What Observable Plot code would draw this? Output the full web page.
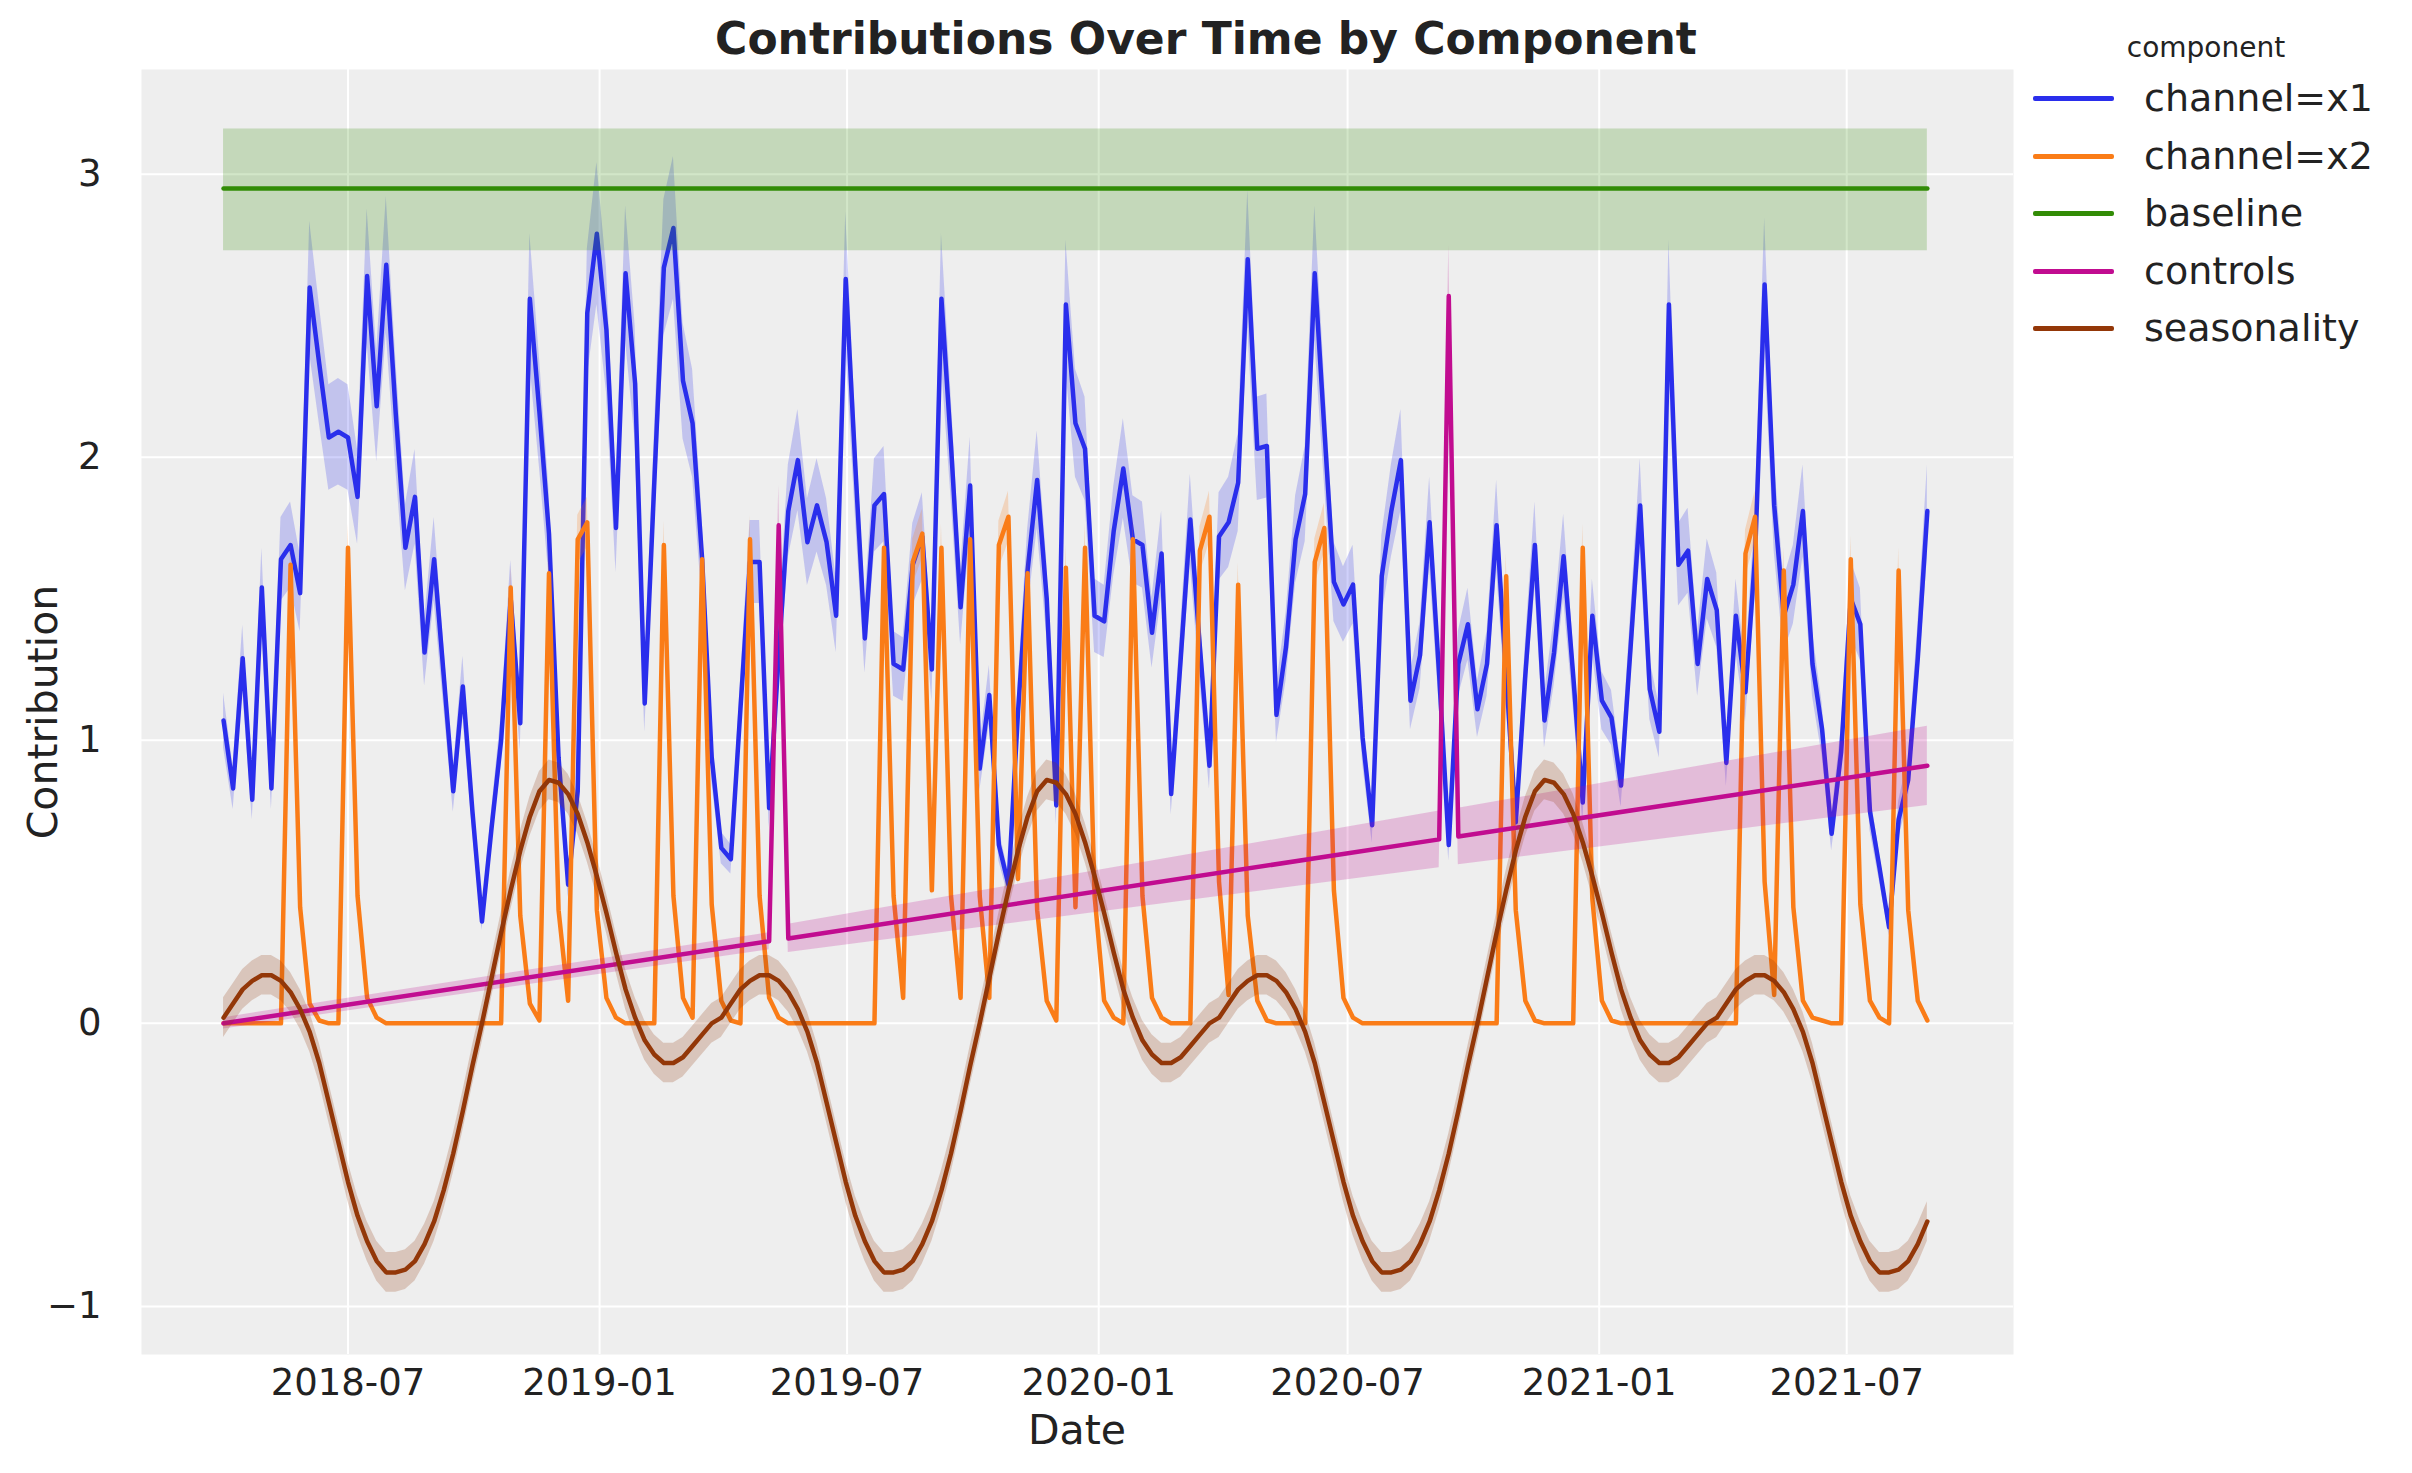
<!DOCTYPE html>
<html><head><meta charset="utf-8">
<script src="https://cdn.jsdelivr.net/npm/d3@7"></script>
<script src="https://cdn.jsdelivr.net/npm/@observablehq/plot@0.6"></script>
<style>
body{margin:0;background:#fff;font-family:"DejaVu Sans",sans-serif;}
#wrap{position:relative;width:2412px;height:1473px;}
.t{position:absolute;color:#222;white-space:nowrap;}
</style></head><body><div id="wrap"></div>
<script>
const startDate = "2018-04-01";
const nWeeks = 179;
const x1 = [1.07,0.83,1.29,0.79,1.54,0.83,1.64,1.69,1.52,2.60,
2.33,2.07,2.09,2.07,1.86,2.64,2.18,2.68,2.15,1.68,
1.86,1.31,1.64,1.23,0.82,1.19,0.75,0.36,0.69,1.00,
1.50,1.06,2.56,2.16,1.73,0.94,0.49,0.82,2.51,2.79,
2.45,1.75,2.65,2.26,1.13,1.91,2.67,2.81,2.27,2.12,
1.64,0.94,0.62,0.58,1.11,1.63,1.63,0.76,1.30,1.81,
1.99,1.70,1.83,1.70,1.44,2.63,1.97,1.36,1.83,1.87,
1.27,1.25,1.62,1.72,1.25,2.56,2.04,1.47,1.90,0.90,
1.16,0.63,0.49,1.10,1.60,1.92,1.50,0.77,2.54,2.12,
2.03,1.44,1.42,1.74,1.96,1.71,1.69,1.38,1.66,0.81,
1.29,1.78,1.33,0.91,1.72,1.77,1.91,2.70,2.03,2.04,
1.09,1.33,1.71,1.87,2.65,2.10,1.56,1.48,1.55,1.01,
0.70,1.58,1.81,1.99,1.14,1.30,1.77,1.23,0.63,1.27,
1.41,1.11,1.27,1.76,1.23,0.71,1.23,1.69,1.07,1.31,
1.65,1.23,0.78,1.44,1.14,1.08,0.84,1.33,1.83,1.18,
1.03,2.54,1.62,1.67,1.27,1.57,1.46,0.92,1.44,1.17,
1.65,2.61,1.83,1.44,1.55,1.81,1.27,1.04,0.67,0.96,
1.50,1.41,0.75,0.55,0.34,0.72,0.86,1.29,1.81];
const x2 = [0,0,0,0,0,0,0,1.62,0.41,0.07,
0.01,0,0,1.68,0.45,0.09,0.02,0,0,0,
0,0,0,0,0,0,0,0,0,0,
1.54,0.38,0.07,0.01,1.59,0.40,0.08,1.71,1.77,0.40,
0.09,0.02,0,0,0,0,1.69,0.45,0.09,0.02,
1.64,0.42,0.08,0.01,0,1.71,0.45,0.09,0.02,0,
0,0,0,0,0,0,0,0,0,1.68,
0.45,0.09,1.63,1.73,0.47,1.68,0.45,0.09,1.71,0.45,
0.09,1.69,1.79,0.51,1.59,0.40,0.08,0.01,1.61,0.41,
1.68,0.45,0.08,0.02,0,1.71,0.45,0.09,0.02,0,
0,0,1.67,1.79,0.50,0.10,1.55,0.38,0.08,0.01,
0,0,0,0,1.63,1.75,0.47,0.09,0.02,0,
0,0,0,0,0,0,0,0,0,0,
0,0,0,0,1.58,0.40,0.08,0.01,0,0,
0,0,1.68,0.44,0.08,0.01,0,0,0,0,
0,0,0,0,0,0,0,0,0,1.66,
1.79,0.50,0.10,1.60,0.41,0.08,0.02,0.01,0,0,
1.64,0.42,0.08,0.02,0,1.60,0.40,0.08,0.01];
const seasonality = [
0.02,0.07,0.12,0.15,0.17,0.17,0.15,0.11,0.05,-0.03,-0.14,-0.28,-0.42,-0.56,-0.68,-0.77,-0.84,-0.88,-0.88,-0.87,-0.84,-0.78,-0.70,-0.59,-0.46,-0.31,-0.15,0.00,0.16,0.32,0.47,0.61,0.73,0.82,0.86,0.85,0.81,0.74,0.64,0.52,0.39,0.25,0.12,0.02,-0.06,-0.11,-0.14,-0.14,-0.12,-0.08,-0.04,0.00,
0.02,0.07,0.12,0.15,0.17,0.17,0.15,0.11,0.05,-0.03,-0.14,-0.28,-0.42,-0.56,-0.68,-0.77,-0.84,-0.88,-0.88,-0.87,-0.84,-0.78,-0.70,-0.59,-0.46,-0.31,-0.15,0.00,0.16,0.32,0.47,0.61,0.73,0.82,0.86,0.85,0.81,0.74,0.64,0.52,0.39,0.25,0.12,0.02,-0.06,-0.11,-0.14,-0.14,-0.12,-0.08,-0.04,0.00,
0.02,0.07,0.12,0.15,0.17,0.17,0.15,0.11,0.05,-0.03,-0.14,-0.28,-0.42,-0.56,-0.68,-0.77,-0.84,-0.88,-0.88,-0.87,-0.84,-0.78,-0.70,-0.59,-0.46,-0.31,-0.15,0.00,0.16,0.32,0.47,0.61,0.73,0.82,0.86,0.85,0.81,0.74,0.64,0.52,0.39,0.25,0.12,0.02,-0.06,-0.11,-0.14,-0.14,-0.12,-0.08,-0.04,0.00,
0.02,0.07,0.12,0.15,0.17,0.17,0.15,0.11,0.05,-0.03,-0.14,-0.28,-0.42,-0.56,-0.68,-0.77,-0.84,-0.88,-0.88,-0.87,-0.84,-0.78,-0.70];
// controls: breakpoints (week index, value, band lo, band hi)
const controlsIdx = [0,57,58,59,127,128,129,178];
const controlsVal = [0.0,0.29,1.76,0.30,0.65,2.57,0.66,0.91];
const controlsLo  = [-0.02,0.26,1.60,0.25,0.55,2.40,0.56,0.77];
const controlsHi  = [0.02,0.32,1.90,0.35,0.75,2.75,0.76,1.05];
const baselineVal = 2.95, baselineLo = 2.73, baselineHi = 3.16;
const yTicks = [-1,0,1,2,3];
const xTicks = ["2018-07-01","2019-01-01","2019-07-01","2020-01-01","2020-07-01","2021-01-01","2021-07-01"];
const components = ["channel=x1","channel=x2","baseline","controls","seasonality"];
const colors = ["#2a2eec","#fa7c17","#328c06","#c10c90","#933708"];

const t0 = new Date(startDate+"T00:00:00Z");
const dateOf = i => d3.utcDay.offset(t0, 7*i);
const rows = d3.range(nWeeks).map(i => ({date: dateOf(i), x1: x1[i], x2: x2[i], s: seasonality[i]}));
const ctrl = controlsIdx.map((k,j)=>({date: dateOf(k), v: controlsVal[j], lo: controlsLo[j], hi: controlsHi[j]}));
const base = [{date: dateOf(0)},{date: dateOf(nWeeks-1)}];
const xt = xTicks.map(d=>new Date(d+"T00:00:00Z"));
const SW = 4.5;

const chart = Plot.plot({
  width: 2412, height: 1473,
  marginLeft: 141, marginRight: 399, marginTop: 69, marginBottom: 119,
  style: {fontFamily: "DejaVu Sans", fontSize: "37px", color: "#222", background: "transparent"},
  x: {type: "utc", domain: [new Date("2018-01-31T00:00:00Z"), new Date("2021-10-31T00:00:00Z")]},
  y: {domain: [-1.17, 3.37]},
  marks: [
    Plot.frame({fill: "#eeeeee", stroke: null}),
    Plot.gridY(yTicks, {stroke: "#fff", strokeOpacity: 1, strokeWidth: 2}),
    Plot.gridX(xt, {stroke: "#fff", strokeOpacity: 1, strokeWidth: 2}),
    Plot.axisY(yTicks, {tickSize: 0, tickPadding: 40, fontSize: 37, label: null, tickFormat: d3.format("d")}),
    Plot.axisX(xt, {tickSize: 0, tickPadding: 14, fontSize: 37, label: null, tickFormat: d3.utcFormat("%Y-%m")}),
    Plot.areaY(rows, {x: "date", y1: d=>d.x1*0.91, y2: d=>d.x1*1.09, fill: colors[0], fillOpacity: 0.22}),
    Plot.lineY(rows, {x: "date", y: "x1", stroke: colors[0], strokeWidth: SW}),
    Plot.areaY(rows, {x: "date", y1: d=>d.x2*0.95, y2: d=>d.x2*1.05, fill: colors[1], fillOpacity: 0.22}),
    Plot.lineY(rows, {x: "date", y: "x2", stroke: colors[1], strokeWidth: SW}),
    Plot.areaY(base, {x: "date", y1: baselineLo, y2: baselineHi, fill: colors[2], fillOpacity: 0.22}),
    Plot.lineY(base, {x: "date", y: baselineVal, stroke: colors[2], strokeWidth: SW}),
    Plot.areaY(ctrl, {x: "date", y1: "lo", y2: "hi", fill: colors[3], fillOpacity: 0.22}),
    Plot.lineY(ctrl, {x: "date", y: "v", stroke: colors[3], strokeWidth: SW}),
    Plot.areaY(rows, {x: "date", y1: d=>d.s-0.07, y2: d=>d.s+0.07, fill: colors[4], fillOpacity: 0.22}),
    Plot.lineY(rows, {x: "date", y: "s", stroke: colors[4], strokeWidth: SW})
  ]
});
const wrap = document.getElementById("wrap");
chart.style.position = "absolute"; chart.style.left = "0"; chart.style.top = "0";
wrap.appendChild(chart);
function addText(txt, css){ const d=document.createElement("div"); d.className="t"; d.textContent=txt; Object.assign(d.style, css); wrap.appendChild(d); return d; }
addText("Contributions Over Time by Component", {left:"1206px", top:"38px", transform:"translate(-50%,-50%)", fontSize:"44px", fontWeight:"bold"});
addText("Date", {left:"1077px", top:"1430px", transform:"translate(-50%,-50%)", fontSize:"41px"});
addText("Contribution", {left:"43px", top:"712px", transform:"translate(-50%,-50%) rotate(-90deg)", fontSize:"41px"});
addText("component", {left:"2206px", top:"47px", transform:"translate(-50%,-50%)", fontSize:"28px"});
const legY = [98,156,213,271,328];
components.forEach((c,i)=>{
  const ln=document.createElement("div");
  Object.assign(ln.style,{position:"absolute",left:"2033px",top:(legY[i]-2)+"px",width:"81px",height:"5px",background:colors[i],borderRadius:"2px"});
  wrap.appendChild(ln);
  addText(c,{left:"2144px", top:legY[i]+"px", transform:"translateY(-50%)", fontSize:"38px"});
});
</script></body></html>
